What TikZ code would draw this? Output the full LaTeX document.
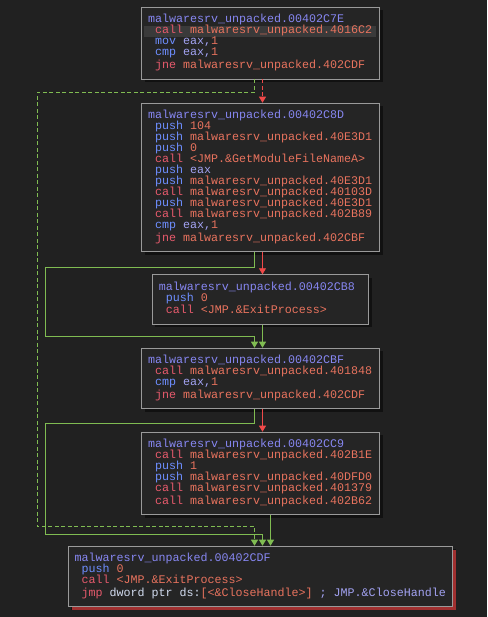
\documentclass[tikz,border=0pt]{standalone}
\usepackage{fontspec}
\setmonofont{Liberation Mono}
\usetikzlibrary{arrows.meta,shadows}
\definecolor{bgc}{HTML}{212121}
\definecolor{boxc}{HTML}{252525}
\definecolor{framec}{HTML}{9A9A9A}
\definecolor{hdc}{HTML}{8787F2}
\definecolor{callc}{HTML}{E65A6C}
\definecolor{opc}{HTML}{6E8EFF}
\definecolor{argc}{HTML}{E8735E}
\definecolor{regc}{HTML}{A2A2F2}
\definecolor{plainc}{HTML}{D2DCF0}
\definecolor{hlc}{HTML}{3A3A3A}
\definecolor{grn}{HTML}{80BC52}
\definecolor{rd}{HTML}{F04A4A}
\definecolor{shdc}{HTML}{111111}
\definecolor{retc}{HTML}{A03030}
\newcommand{\mw}{malwaresrv\_unpacked.}
% header line also fixes the spacing of the listing
\newcommand{\hd}[1]{\frenchspacing\spaceskip=7pt\xspaceskip=7pt\lineskiplimit=-50pt\lineskip=0pt
  \strut\textcolor{hdc}{#1}}
\newcommand{\kc}[1]{\hspace*{7pt}\strut\textcolor{callc}{#1}}
\newcommand{\ko}[1]{\hspace*{7pt}\strut\textcolor{opc}{#1}}
\newcommand{\av}[1]{\textcolor{argc}{#1}}
\newcommand{\rg}[1]{\textcolor{regc}{#1}}
\newcommand{\hlrow}{\hspace*{-3.8pt}\rlap{\textcolor{hlc}{\rule[-3.3pt]{232pt}{11pt}}}\hspace*{3.8pt}}
\begin{document}
\begin{tikzpicture}[x=1pt,y=-1pt,
  blk/.style={draw=framec,line width=0.9pt,fill=boxc,anchor=north,align=left,
    inner xsep=6.5pt,inner ysep=7pt,text width=225pt,
    font=\ttfamily\fontsize{11.67}{11}\selectfont,
    general shadow={fill=shdc,shadow xshift=3pt,shadow yshift=-3pt}},
  gedge/.style={grn,line width=0.8pt,-{Triangle[width=7pt,length=6pt]}},
  redge/.style={rd,line width=0.8pt,-{Triangle[width=7pt,length=6pt]}},
  brk/.style={dash pattern=on 4pt off 2.5pt}]
\fill[bgc] (0,0) rectangle (487,617);
\node[blk] (b1) at (260.5,7) {\hd{\mw 00402C7E}\\
  \hlrow\kc{call} \av{\mw 4016C2}\\
  \ko{mov} \rg{eax,}\av{1}\\
  \ko{cmp} \rg{eax,}\av{1}\\
  \kc{jne} \av{\mw 402CDF}};
\node[blk] (b2) at (260.5,102.7) {\hd{\mw 00402C8D}\\
  \ko{push} \av{104}\\
  \ko{push} \av{\mw 40E3D1}\\
  \ko{push} \av{0}\\
  \kc{call} \av{<JMP.\&GetModuleFileNameA>}\\
  \ko{push} \rg{eax}\\
  \ko{push} \av{\mw 40E3D1}\\
  \kc{call} \av{\mw 40103D}\\
  \ko{push} \av{\mw 40E3D1}\\
  \kc{call} \av{\mw 402B89}\\
  \ko{cmp} \rg{eax,}\av{1}\\
  \kc{jne} \av{\mw 402CBF}};
\node[blk,text width=203.3pt] (b3) at (260.5,274.3) {\hd{\mw 00402CB8}\\
  \ko{push} \av{0}\\
  \kc{call} \av{<JMP.\&ExitProcess>}};
\node[blk] (b4) at (260.5,347.7) {\hd{\mw 00402CBF}\\
  \kc{call} \av{\mw 401848}\\
  \ko{cmp} \rg{eax,}\av{1}\\
  \kc{jne} \av{\mw 402CDF}};
\node[blk] (b5) at (260.5,431.7) {\hd{\mw 00402CC9}\\
  \kc{call} \av{\mw 402B1E}\\
  \ko{push} \av{1}\\
  \ko{push} \av{\mw 40DFD0}\\
  \kc{call} \av{\mw 401379}\\
  \kc{call} \av{\mw 402B62}};
\node[blk,text width=371.7pt,general shadow={fill=retc,shadow xshift=3.5pt,shadow yshift=-3.5pt}] (b6) at (260.5,545.7) {\hd{\mw 00402CDF}\\
  \ko{push} \av{0}\\
  \kc{call} \av{<JMP.\&ExitProcess>}\\
  \kc{jmp} \textcolor{plainc}{dword ptr ds:}\av{[<\&CloseHandle>]} \rg{; JMP.\&CloseHandle}};
% taken / not taken branches
\draw[redge,brk] ([xshift=2pt]b1.south) -- ([xshift=2pt]b2.north);
\foreach \a/\b in {b2/b3,b4/b5}
  \draw[redge] ([xshift=2pt]\a.south) -- ([xshift=2pt]\b.north);
\draw[gedge] ([xshift=2pt]b3.south) -- ([xshift=2pt]b4.north);
\draw[gedge] ([xshift=10pt]b5.south) -- ([xshift=10pt]b6.north);
\draw[gedge,brk] ([xshift=-6pt]b1.south) -- ++(0,13) -| (37,526.5) -| ([xshift=-6pt]b6.north);
\draw[gedge] ([xshift=-6pt]b2.south) -- ++(0,15.6) -| (45.3,336.3) -| ([xshift=-6pt]b4.north);
\draw[gedge] ([xshift=-6pt]b4.south) -- ++(0,14.7) -| (45.3,534) -| ([xshift=2pt]b6.north);
\end{tikzpicture}
\end{document}
